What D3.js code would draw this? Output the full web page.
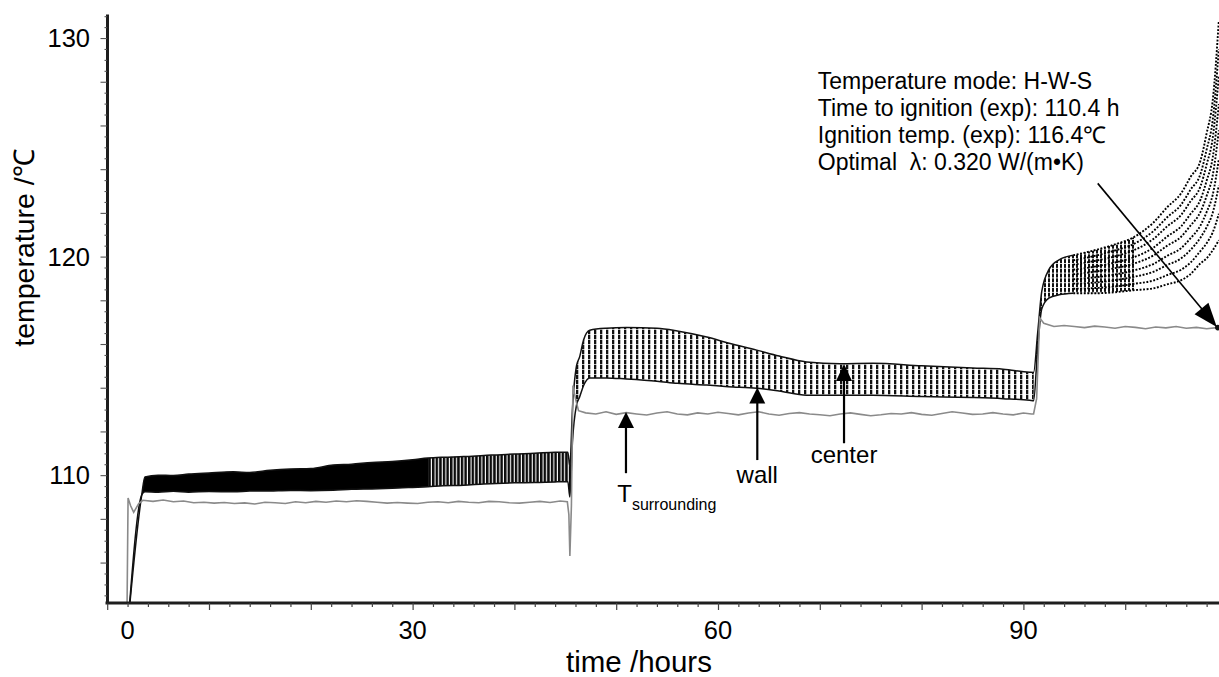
<!DOCTYPE html>
<html>
<head>
<meta charset="utf-8">
<script src="https://cdn.jsdelivr.net/npm/d3@7"></script>
<style>
  html, body { margin: 0; padding: 0; background: #fff; }
  svg { display: block; font-family: "Liberation Sans", Arial, Helvetica, sans-serif; }
</style>
</head>
<body>
<svg id="chart" width="1219" height="677"></svg>
<script>
// ---------------------------------------------------------------
// Self-heating test, mode H-W-S: oven, wall and centre temperatures
// ---------------------------------------------------------------

// Oven (surrounding) temperature, [time h, temperature °C]
const surroundingPoints = [
  [1.95, 104.0], [2.05, 108.95], [2.3, 108.6], [2.6, 108.3], [3.1, 108.7],
  [3.5, 108.85], [4.5, 108.80], [5.5, 108.86], [6.5, 108.78], [7.5, 108.82],
  [8.5, 108.74], [9.5, 108.76], [10.5, 108.72], [11.5, 108.75], [12.5, 108.70],
  [13.5, 108.73], [14.5, 108.68], [15.5, 108.76], [16.5, 108.74], [17.5, 108.70],
  [18.5, 108.78], [19.5, 108.74], [20.5, 108.80], [21.5, 108.76], [22.5, 108.82],
  [23.5, 108.78], [24.5, 108.83], [25.5, 108.80], [26.5, 108.76], [27.5, 108.72],
  [28.5, 108.75], [29.5, 108.72], [30.5, 108.70], [31.5, 108.76], [32.5, 108.78],
  [33.5, 108.74], [34.5, 108.80], [35.5, 108.76], [36.5, 108.74], [37.5, 108.80],
  [38.5, 108.78], [39.5, 108.74], [40.5, 108.72], [41.5, 108.76], [42.5, 108.80],
  [43.5, 108.75], [44.5, 108.82], [45.2, 108.78],
  [45.35, 108.2], [45.45, 106.3], [45.6, 108.6], [45.75, 114.1], [46.0, 113.5],
  [46.3, 112.95], [47, 112.85], [48, 112.80], [49, 112.90], [50, 112.78],
  [51, 112.86], [52, 112.80], [53, 112.75], [54, 112.84], [55, 112.90],
  [56, 112.80], [57, 112.76], [58, 112.85], [59, 112.80], [60, 112.88],
  [61, 112.82], [62, 112.76], [63, 112.84], [64, 112.90], [65, 112.80],
  [66, 112.74], [67, 112.82], [68, 112.86], [69, 112.80], [70, 112.76],
  [71, 112.72], [72, 112.80], [73, 112.85], [74, 112.78], [75, 112.72],
  [76, 112.76], [77, 112.82], [78, 112.80], [79, 112.86], [80, 112.78],
  [81, 112.74], [82, 112.82], [83, 112.90], [84, 112.84], [85, 112.78],
  [86, 112.80], [87, 112.86], [88, 112.80], [89, 112.76], [90, 112.84],
  [90.8, 112.80],
  [91.0, 112.8], [91.3, 113.5], [91.6, 117.2], [92.0, 116.95], [93, 116.80],
  [94, 116.85], [95, 116.80], [96, 116.75], [97, 116.82], [98, 116.78],
  [99, 116.72], [100, 116.80], [101, 116.76], [102, 116.70], [103, 116.78],
  [104, 116.74], [105, 116.80], [106, 116.72], [107, 116.76], [108, 116.70],
  [109, 116.75], [109.3, 116.70]
];

// Sample wall and centre temperatures on a common time base
const bandTime = [
  2.1, 3.39, 3.7, 5, 6.5, 8, 10, 12.4, 14, 16,
  18, 20, 22.2, 24, 26, 28, 30, 31.5, 33, 35,
  37, 40, 42, 44, 45.25, 45.45, 45.7, 46.1, 46.4, 46.8,
  47.4, 49, 51, 54, 56, 58.9, 61, 63.8, 66, 68.7,
  72, 75.2, 80, 85, 88, 90.6, 91.0, 91.4, 91.8, 92.5,
  93.5, 94.9, 97, 99, 100.8, 102.8, 104.1, 105.5, 106.4, 107.4,
  108.0, 108.6, 109.2
];
const wallTemp = [
  103.5, 109.09, 109.24, 109.22, 109.26, 109.22, 109.25, 109.24, 109.27, 109.28,
  109.30, 109.29, 109.31, 109.35, 109.37, 109.40, 109.44, 109.47, 109.52, 109.54,
  109.60, 109.65, 109.66, 109.69, 109.70, 109.00, 111.50, 113.20, 113.57, 114.10,
  114.44, 114.45, 114.40, 114.30, 114.20, 114.12, 114.05, 113.98, 113.85, 113.66,
  113.66, 113.66, 113.60, 113.55, 113.50, 113.43, 113.40, 115.80, 117.60, 118.10,
  118.25, 118.32, 118.32, 118.37, 118.46, 118.55, 118.73, 118.92, 119.19, 119.69,
  119.92, 120.29, 120.75
];
const centerTemp = [
  103.5, 109.09, 109.92, 110.00, 109.98, 110.05, 110.10, 110.15, 110.12, 110.22,
  110.28, 110.30, 110.46, 110.50, 110.58, 110.62, 110.70, 110.78, 110.82, 110.85,
  110.90, 110.97, 111.00, 111.05, 111.05, 110.40, 113.00, 115.00, 115.40, 116.20,
  116.63, 116.72, 116.75, 116.72, 116.60, 116.32, 116.05, 115.72, 115.45, 115.18,
  115.10, 115.12, 115.00, 114.90, 114.85, 114.71, 114.70, 116.50, 118.40, 119.40,
  119.85, 120.06, 120.29, 120.56, 120.88, 121.57, 122.25, 122.90, 123.63, 124.40,
  125.64, 127.15, 130.80
];

// Interior nodes (wall -> centre) during the run-away stage
const nodeTime = [94.9, 97, 99, 100.8, 102.8, 104.1, 105.5, 106.4, 107.4, 108.0, 108.6, 109.2];
const node1 = [118.53, 118.56, 118.63, 118.75, 118.91, 119.15, 119.40, 119.72, 120.26, 120.61, 121.11, 121.96];
const node2 = [118.76, 118.81, 118.92, 119.07, 119.31, 119.61, 119.92, 120.30, 120.87, 121.35, 122.01, 123.26];
const node3 = [118.96, 119.05, 119.18, 119.36, 119.67, 120.03, 120.39, 120.83, 121.43, 122.04, 122.83, 124.47];
const node4 = [119.19, 119.31, 119.47, 119.67, 120.06, 120.49, 120.91, 121.41, 122.05, 122.78, 123.72, 125.78];
const node5 = [119.40, 119.54, 119.73, 119.96, 120.42, 120.91, 121.39, 121.94, 122.61, 123.47, 124.54, 126.98];
const node6 = [119.63, 119.80, 120.01, 120.28, 120.82, 121.37, 121.91, 122.52, 123.22, 124.21, 125.44, 128.29];
const node7 = [119.83, 120.03, 120.28, 120.57, 121.18, 121.79, 122.38, 123.05, 123.79, 124.90, 126.26, 129.49];

// Axis ticks
const xMinorTicks = d3.range(0, 110, 2);
const xTickLabels = [0, 30, 60, 90];
const yMinorTicks = d3.range(209, 263).map(v => v / 2);
const yTickLabels = [110, 120, 130];

// Annotation text
const infoLines = [
  "Temperature mode: H-W-S",
  "Time to ignition (exp): 110.4 h",
  "Ignition temp. (exp): 116.4\u2103",
  "Optimal  \u03bb: 0.320 W/(m\u2022K)"
];

// ---------------------------------------------------------------
const svg = d3.select("#chart");
const plot = { left: 107, right: 1219, top: 14, bottom: 603 };

const x = d3.scaleLinear().domain([0, 110]).range([107.2, 107.2 + 10.18 * 110]);
const y = d3.scaleLinear().domain([104.15, 131.1]).range([plot.bottom, plot.top]);

const defs = svg.append("defs");
defs.append("clipPath").attr("id", "plotClip")
  .append("rect")
  .attr("x", plot.left + 1).attr("y", plot.top)
  .attr("width", plot.right - plot.left).attr("height", plot.bottom - plot.top - 1);

// hatch fills for the wall-centre band
function hatch(id, w, h, bw, bh, color) {
  const p = defs.append("pattern").attr("id", id)
    .attr("patternUnits", "userSpaceOnUse").attr("width", w).attr("height", h);
  p.append("rect").attr("width", bw).attr("height", bh).attr("fill", color);
}
hatch("hatchDense", 3.6, 10, 2.5, 10, "#0a0a0a");
hatch("hatchOpen", 6.0, 5.0, 2.3, 4.3, "#111");
hatch("hatchRun", 4.0, 4.8, 2.0, 4.0, "#111");

const band = bandTime.map((t, i) => ({ t, wall: wallTemp[i], center: centerTemp[i] }));

const plotG = svg.append("g").attr("clip-path", "url(#plotClip)");

const bandArea = d3.area()
  .x(d => x(d.t)).y0(d => y(d.wall)).y1(d => y(d.center))
  .curve(d3.curveMonotoneX);

// stages of the record and how their band is shaded
const stages = [
  { from: 3.3, to: 31.6, fill: "#000" },
  { from: 31.6, to: 45.6, fill: "url(#hatchDense)" },
  { from: 45.6, to: 91.0, fill: "url(#hatchOpen)" },
  { from: 91.0, to: 100.9, fill: "url(#hatchRun)" }
];
stages.forEach((s, i) => {
  defs.append("clipPath").attr("id", "stage" + i)
    .append("rect")
    .attr("x", x(s.from)).attr("y", plot.top)
    .attr("width", x(s.to) - x(s.from)).attr("height", plot.bottom - plot.top);
  plotG.append("path")
    .datum(band)
    .attr("clip-path", `url(#stage${i})`)
    .attr("d", bandArea)
    .attr("fill", s.fill);
});

// wall and centre curves: solid up to the run-away stage, dotted after
const runStart = nodeTime[0];
const edgeLine = key => d3.line().x(d => x(d.t)).y(d => y(d[key])).curve(d3.curveMonotoneX);
["wall", "center"].forEach(key => {
  plotG.append("path")
    .datum(band.filter(d => d.t <= runStart))
    .attr("d", edgeLine(key))
    .attr("fill", "none").attr("stroke", "#111").attr("stroke-width", 1.5);
});

const runWall = band.filter(d => d.t >= runStart).map(d => d.wall);
const runCenter = band.filter(d => d.t >= runStart).map(d => d.center);
const nodeSeries = [runWall, node1, node2, node3, node4, node5, node6, node7, runCenter];
const nodeLine = d3.line()
  .x((v, i) => x(nodeTime[i])).y(v => y(v))
  .curve(d3.curveMonotoneX);
nodeSeries.forEach(vals => {
  plotG.append("path")
    .datum(vals)
    .attr("d", nodeLine)
    .attr("fill", "none").attr("stroke", "#000").attr("stroke-width", 1.9)
    .attr("stroke-dasharray", "1.9 1.6");
});

// oven temperature
plotG.append("path")
  .datum(surroundingPoints)
  .attr("d", d3.line().x(d => x(d[0])).y(d => y(d[1])).curve(d3.curveLinear))
  .attr("fill", "none").attr("stroke", "#8a8a8a").attr("stroke-width", 1.6);

// ignition marker at the end of the record
svg.append("circle")
  .attr("cx", x(109.1)).attr("cy", y(116.75)).attr("r", 2.8).attr("fill", "#111");

// ---------------- axes ----------------
const gx = svg.append("g").attr("transform", `translate(0,${plot.bottom})`)
  .call(d3.axisBottom(x).tickValues(xMinorTicks).tickSizeInner(4).tickSizeOuter(0).tickFormat(""));
gx.select(".domain").attr("stroke", "#1e1e1e").attr("stroke-width", 3)
  .attr("d", `M${plot.left - 1.5},0H${plot.right}`);
gx.selectAll(".tick line").attr("stroke", "#444").attr("stroke-width", 1.2)
  .attr("y2", d => d % 10 === 0 ? 7 : 4);

// zero label sits one minor tick in so that it clears the y axis
svg.append("g").selectAll("text").data(xTickLabels).join("text")
  .attr("x", d => x(d) + (d === 0 ? x(2) - x(0) : 0))
  .attr("y", 638.5)
  .attr("text-anchor", "middle")
  .attr("font-size", 25.5).attr("fill", "#000")
  .text(d => d);

const gy = svg.append("g").attr("transform", `translate(${plot.left},0)`)
  .call(d3.axisLeft(y).tickValues(yMinorTicks).tickSizeInner(6).tickSizeOuter(0).tickFormat(""));
gy.select(".domain").attr("stroke", "#1e1e1e").attr("stroke-width", 3);
gy.selectAll(".tick line").attr("stroke", "#555").attr("stroke-width", 1.1)
  .attr("x2", d => d % 2 === 0 ? -6.5 : -2.5);

svg.append("g").selectAll("text").data(yTickLabels).join("text")
  .attr("x", 90).attr("y", d => y(d)).attr("dy", "0.36em")
  .attr("text-anchor", "end")
  .attr("font-size", 25.5).attr("fill", "#000")
  .text(d => d);

svg.append("text")
  .attr("x", 639).attr("y", 672)
  .attr("text-anchor", "middle").attr("font-size", 29.5)
  .text("time /hours");

svg.append("text")
  .attr("transform", "translate(34,248) rotate(-90)")
  .attr("text-anchor", "middle").attr("font-size", 28.5)
  .text("temperature /\u2103");

// ---------------- annotations ----------------
function arrow(x1, y1, x2, y2, len, half, width) {
  const dx = x2 - x1, dy = y2 - y1, L = Math.hypot(dx, dy);
  const ux = dx / L, uy = dy / L;
  const bx = x2 - ux * len, by = y2 - uy * len;
  svg.append("line")
    .attr("x1", x1).attr("y1", y1).attr("x2", bx + ux * 1).attr("y2", by + uy * 1)
    .attr("stroke", "#000").attr("stroke-width", width);
  svg.append("path")
    .attr("d", `M${x2},${y2}L${bx - uy * half},${by + ux * half}L${bx + uy * half},${by - ux * half}Z`)
    .attr("fill", "#000");
}

// T_surrounding
arrow(x(50.96), y(110.09), x(50.96), y(112.89), 16, 8, 2.2);
const tLabel = svg.append("text").attr("x", x(50.1)).attr("y", y(108.78)).attr("font-size", 24);
tLabel.append("tspan").text("T");
tLabel.append("tspan").attr("font-size", 16).attr("dy", 8.5).text("surrounding");

// wall
arrow(x(63.86), y(110.69), x(63.86), y(114.01), 16, 8, 2.2);
svg.append("text").attr("x", x(63.86)).attr("y", y(109.65))
  .attr("text-anchor", "middle").attr("font-size", 24).text("wall");

// centre
arrow(x(72.38), y(111.46), x(72.38), y(115.08), 17, 8, 2.2);
svg.append("text").attr("x", x(72.38)).attr("y", y(110.54))
  .attr("text-anchor", "middle").attr("font-size", 24).text("center");

// information block
svg.append("g").selectAll("text").data(infoLines).join("text")
  .attr("x", x(69.8)).attr("y", (d, i) => y(127.65) + i * 27)
  .attr("font-size", 23).attr("xml:space", "preserve")
  .style("white-space", "pre")
  .text(d => d);

arrow(x(97.3), y(123.35), x(109.0), y(116.78), 24, 9, 1.6);
</script>
</body>
</html>
